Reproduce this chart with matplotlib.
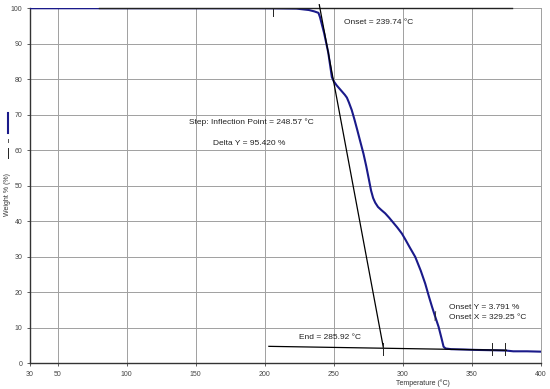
import matplotlib
matplotlib.use("Agg")
import matplotlib.pyplot as plt
from matplotlib.lines import Line2D

plt.rcParams['font.family'] = ['Liberation Sans', 'DejaVu Sans']

# TGA curve
temp = [30, 80, 150, 200, 223, 232, 236, 238.9, 240, 243, 246, 248.6, 250, 252,
        254, 256, 258, 259.5, 261, 263, 265, 267, 269, 271.5, 273.5, 275.5,
        277, 278.5, 280, 282, 284.5, 287.2, 290, 293, 296, 299.3, 302, 305,
        309, 313, 316.2, 319, 321.1, 323.5, 325.9, 328, 329.5, 331, 335, 345,
        352.5, 365, 375, 380, 390, 400]
weight = [100, 100, 100, 100, 99.9, 99.5, 99.1, 98.7, 97.5, 93.0, 87.5, 80.6,
          79.4, 78.3, 77.4, 76.5, 75.6, 74.8, 73.4, 71.3, 68.6, 65.7, 62.7,
          59.0, 55.5, 51.6, 48.6, 46.5, 45.2, 44.0, 43.1, 42.2, 41.0, 39.6,
          38.2, 36.5, 34.7, 32.6, 29.9, 26.0, 22.4, 18.6, 15.9, 13.0, 10.2,
          7.0, 4.6, 4.1, 3.9, 3.8, 3.7, 3.6, 3.5, 3.3, 3.3, 3.2]

# analysis lines
top_base_x = [80, 379]
top_base_y = [100, 100]
tangent_x = [239.5, 285.92]
tangent_y = [101.0, 4.3]
end_base_x = [203, 375]
end_base_y = [4.7, 3.6]
marker_x = [206, 285.92, 364.6, 374.2]
marker_y = [(97.8, 100), (2.3, 5.6), (2.3, 5.6), (2.3, 5.6)]

xticks = [30, 50, 100, 150, 200, 250, 300, 350, 400]
yticks = [0, 10, 20, 30, 40, 50, 60, 70, 80, 90, 100]

fig = plt.figure(figsize=(5.5, 3.89), dpi=100)
ax = fig.add_axes([0.0545, 0.0668, 0.929, 0.912])

ax.set_xlim(30, 400)
ax.set_ylim(0, 100)
ax.set_xticks(xticks)
ax.set_yticks(yticks)
ax.tick_params(labelsize=5, colors='#444444', length=2, width=0.6)
ax.grid(True, color='#a0a0a0', linewidth=0.7)
for s in ['top', 'right']:
    ax.spines[s].set_color('#a0a0a0')
    ax.spines[s].set_linewidth(0.7)
for s in ['left', 'bottom']:
    ax.spines[s].set_color('#333333')
    ax.spines[s].set_linewidth(1.0)

ax.plot(temp, weight, color='#1a1a8a', lw=1.5, zorder=3, solid_joinstyle='round')
ax.plot(top_base_x, top_base_y, color='#222222', lw=1.0, zorder=4, clip_on=False)
ax.plot(tangent_x, tangent_y, color='black', lw=0.9, zorder=4, clip_on=False)
ax.plot(end_base_x, end_base_y, color='black', lw=0.9, zorder=4)
for mx, (y0, y1) in zip(marker_x, marker_y):
    ax.plot([mx, mx], [y0, y1], color='#222222', lw=0.7, zorder=4)
ax.plot([323.3, 323.8], [12.0, 14.5], color='#222222', lw=0.6, zorder=4)

fs = 6
ax.text(257.5, 95.9, "Onset = 239.74 °C", fontsize=fs, va='center', color='#222222')
ax.text(145.4, 67.9, "Step: Inflection Point = 248.57 °C", fontsize=fs, va='center', color='#222222')
ax.text(162.8, 61.8, "Delta Y = 95.420 %", fontsize=fs, va='center', color='#222222')
ax.text(225, 7.1, "End = 285.92 °C", fontsize=fs, va='center', color='#222222')
ax.text(333.2, 15.7, "Onset Y = 3.791 %", fontsize=fs, va='center', color='#222222')
ax.text(333.2, 12.9, "Onset X = 329.25 °C", fontsize=fs, va='center', color='#222222')

fig.text(423 / 550, 1 - 382.7 / 389, "Temperature (°C)", fontsize=5,
         ha='center', va='center', color='#333333')
fig.text(7.5 / 550, 1 - 195 / 389, "Weight % (%)", fontsize=5, rotation=90,
         ha='center', va='center', color='#333333')
# little legend symbol next to the y label
fig.add_artist(Line2D([7.5 / 550, 7.5 / 550], [1 - 113 / 389, 1 - 133 / 389],
                      color='#1a1a8a', lw=1.5))
fig.add_artist(Line2D([7.5 / 550, 7.5 / 550], [1 - 139 / 389, 1 - 142 / 389],
                      color='#555555', lw=0.7))
fig.add_artist(Line2D([7.5 / 550, 7.5 / 550], [1 - 148 / 389, 1 - 158 / 389],
                      color='#222222', lw=0.7))

fig.savefig("out.png", dpi=100)
